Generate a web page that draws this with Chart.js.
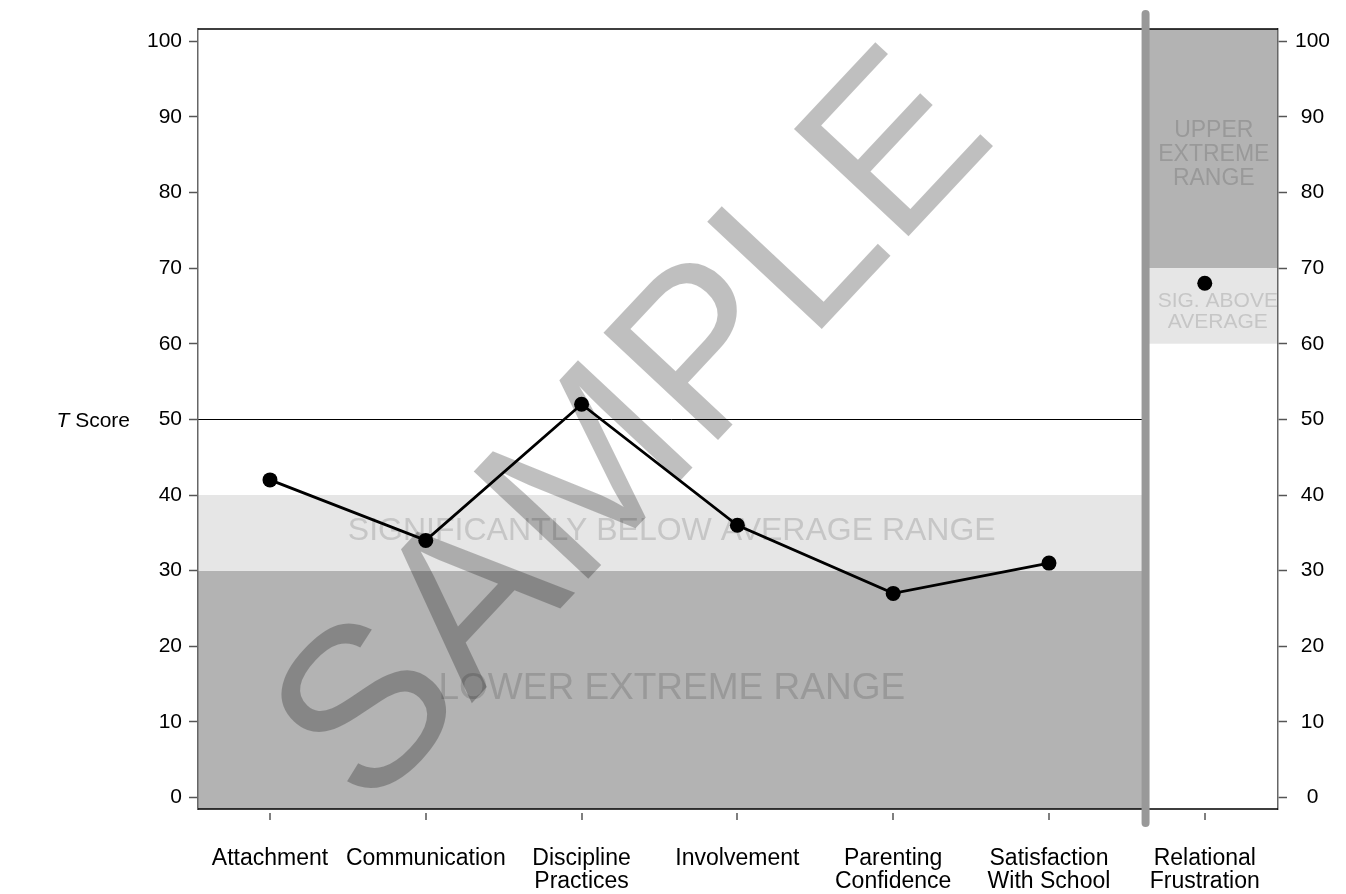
<!DOCTYPE html>
<html>
<head>
<meta charset="utf-8">
<script src="https://cdn.jsdelivr.net/npm/chart.js"></script>
<style>
html, body { margin: 0; padding: 0; background: #fff; }
canvas { display: block; }
</style>
</head>
<body>
<canvas id="t-chart" width="1346" height="894"></canvas>
<script>
// chart data
var categories = [['Attachment'], ['Communication'], ['Discipline', 'Practices'], ['Involvement'],
  ['Parenting', 'Confidence'], ['Satisfaction', 'With School'], ['Relational', 'Frustration']];
var categoryPositions = [1, 2, 3, 4, 5, 6, 7];
var scaleScores = [42, 34, 52, 36, 27, 31];
var frustrationScore = [68];
var yTicks = [0, 10, 20, 30, 40, 50, 60, 70, 80, 90, 100];

// score ranges
var lowerExtremeTop = 30;
var belowAverageTop = 40;
var averageLine = 50;
var aboveAverageBottom = 60;
var upperExtremeBottom = 70;

var dividerAt = 6.62;
var font = '"Liberation Sans", Arial, sans-serif';
Chart.defaults.font.family = font;
Chart.defaults.color = '#000';

function capText(c, txt, x, yMid, size) {
  c.font = size + 'px ' + font;
  c.fillText(txt, x, yMid + size * 0.358);
}

var backdrop = {
  id: 'backdrop',
  beforeDraw: function (chart) {
    var c = chart.ctx, a = chart.chartArea, y = chart.scales.y, x = chart.scales.x;
    var sep = x.getPixelForValue(dividerAt);
    c.save();
    c.fillStyle = '#fff';
    c.fillRect(0, 0, chart.width, chart.height);

    // left bands
    var p30 = y.getPixelForValue(lowerExtremeTop), p40 = y.getPixelForValue(belowAverageTop);
    c.fillStyle = '#b3b3b3';
    c.fillRect(a.left, p30, sep - a.left, a.bottom - p30);
    c.fillStyle = '#e6e6e6';
    c.fillRect(a.left, p40, sep - a.left, p30 - p40);

    // right bands
    var p60 = y.getPixelForValue(aboveAverageBottom), p70 = y.getPixelForValue(upperExtremeBottom);
    c.fillStyle = '#b3b3b3';
    c.fillRect(sep, a.top, a.right - sep, p70 - a.top);
    c.fillStyle = '#e6e6e6';
    c.fillRect(sep, p70, a.right - sep, p60 - p70);

    // 50 line
    var p50 = Math.round(y.getPixelForValue(averageLine)) + 0.5;
    c.strokeStyle = '#000';
    c.lineWidth = 1;
    c.beginPath();
    c.moveTo(a.left, p50);
    c.lineTo(sep, p50);
    c.stroke();

    // range texts
    c.textAlign = 'center';
    c.textBaseline = 'alphabetic';
    var mid = (a.left + sep) / 2;
    c.fillStyle = '#c6c6c6';
    capText(c, 'SIGNIFICANTLY BELOW AVERAGE RANGE', mid, (p30 + p40) / 2 - 4, 32);
    c.fillStyle = '#999';
    capText(c, 'LOWER EXTREME RANGE', mid, y.getPixelForValue(14.8), 37);

    var rmid = (sep + a.right) / 2 + 2;
    capText(c, 'UPPER', rmid, y.getPixelForValue(88.4), 23);
    capText(c, 'EXTREME', rmid, y.getPixelForValue(85.2), 23);
    capText(c, 'RANGE', rmid, y.getPixelForValue(82.1), 23);
    c.fillStyle = '#c6c6c6';
    c.save();
    c.beginPath();
    c.rect(sep, p70, a.right - sep, p60 - p70);
    c.clip();
    capText(c, 'SIG. ABOVE', rmid + 4, y.getPixelForValue(65.8), 21);
    capText(c, 'AVERAGE', rmid + 4, y.getPixelForValue(63.1), 21);
    c.restore();

    // watermark
    c.save();
    c.translate(624, 421);
    c.rotate(-46.9 * Math.PI / 180);
    c.font = '228px ' + font;
    c.fillStyle = 'rgba(0,0,0,0.25)';
    c.textAlign = 'center';
    c.textBaseline = 'alphabetic';
    c.fillText('SAMPLE', 0, 228 * 0.358);
    c.restore();

    // axis title
    c.fillStyle = '#000';
    c.textAlign = 'left';
    c.font = 'italic 21px ' + font;
    var tw = c.measureText('T').width;
    c.font = '21px ' + font;
    var sw = c.measureText(' Score').width;
    var tx = 130 - tw - sw;
    var ty = y.getPixelForValue(averageLine) + 21 * 0.358;
    c.font = 'italic 21px ' + font;
    c.fillText('T', tx, ty);
    c.font = '21px ' + font;
    c.fillText(' Score', tx + tw, ty);
    c.restore();
  },
  afterDraw: function (chart) {
    var c = chart.ctx, a = chart.chartArea, x = chart.scales.x;
    c.save();
    c.strokeStyle = '#000';
    c.lineWidth = 1.5;
    c.beginPath();
    c.moveTo(a.left, a.top);
    c.lineTo(a.right, a.top);
    c.moveTo(a.left, a.bottom);
    c.lineTo(a.right, a.bottom);
    c.stroke();

    // x ticks, detached from the axis
    c.strokeStyle = '#555';
    c.lineWidth = 1.5;
    c.beginPath();
    categoryPositions.forEach(function (v) {
      var px = Math.round(x.getPixelForValue(v));
      c.moveTo(px, a.bottom + 4);
      c.lineTo(px, a.bottom + 11);
    });
    c.stroke();

    // divider
    var sep = x.getPixelForValue(dividerAt);
    c.strokeStyle = '#999';
    c.lineWidth = 8;
    c.lineCap = 'round';
    c.beginPath();
    c.moveTo(sep, a.top - 15);
    c.lineTo(sep, a.bottom + 14);
    c.stroke();
    c.restore();
  }
};

function fixTicks(list) {
  return function (scale) {
    scale.ticks = list.map(function (v) { return { value: v }; });
  };
}

new Chart(document.getElementById('t-chart'), {
  type: 'line',
  data: {
    datasets: [{
      data: scaleScores.map(function (v, i) { return { x: categoryPositions[i], y: v }; }),
      borderColor: '#000',
      borderWidth: 2.8,
      pointRadius: 7.5,
      pointBackgroundColor: '#000',
      pointBorderColor: '#000',
      pointBorderWidth: 0,
      tension: 0,
      clip: false
    }, {
      data: frustrationScore.map(function (v) { return { x: categoryPositions[6], y: v }; }),
      showLine: false,
      pointRadius: 7.5,
      pointBackgroundColor: '#000',
      pointBorderColor: '#000',
      pointBorderWidth: 0,
      clip: false
    }]
  },
  options: {
    responsive: false,
    animation: false,
    devicePixelRatio: 1,
    layout: { padding: { top: 29, left: 0, right: 0, bottom: 0 } },
    plugins: { legend: { display: false }, tooltip: { enabled: false } },
    scales: {
      x: {
        type: 'linear',
        min: 0.538,
        max: 7.47,
        bounds: 'data',
        afterBuildTicks: fixTicks(categoryPositions),
        afterFit: function (s) { s.height = 85; },
        grid: { display: false },
        border: { display: false },
        ticks: {
          autoSkip: false,
          maxRotation: 0,
          padding: 30,
          font: { size: 23, lineHeight: 1.0 },
          callback: function (v) { return categories[categoryPositions.indexOf(v)]; }
        }
      },
      y: {
        position: 'left',
        min: -1.5,
        max: 101.6,
        bounds: 'data',
        afterBuildTicks: fixTicks(yTicks),
        afterFit: function (s) { s.width = 198; },
        grid: { drawOnChartArea: false, tickLength: 9, tickColor: '#555', tickWidth: 1.5 },
        border: { color: '#666', width: 1.5 },
        ticks: { padding: 7, font: { size: 21 } }
      },
      y2: {
        position: 'right',
        min: -1.5,
        max: 101.6,
        bounds: 'data',
        afterBuildTicks: fixTicks(yTicks),
        afterFit: function (s) { s.width = 68; },
        grid: { drawOnChartArea: false, tickLength: 9, tickColor: '#555', tickWidth: 1.5 },
        border: { color: '#666', width: 1.5 },
        ticks: { padding: 8, crossAlign: 'center', font: { size: 21 } }
      }
    }
  },
  plugins: [backdrop]
});
</script>
</body>
</html>
